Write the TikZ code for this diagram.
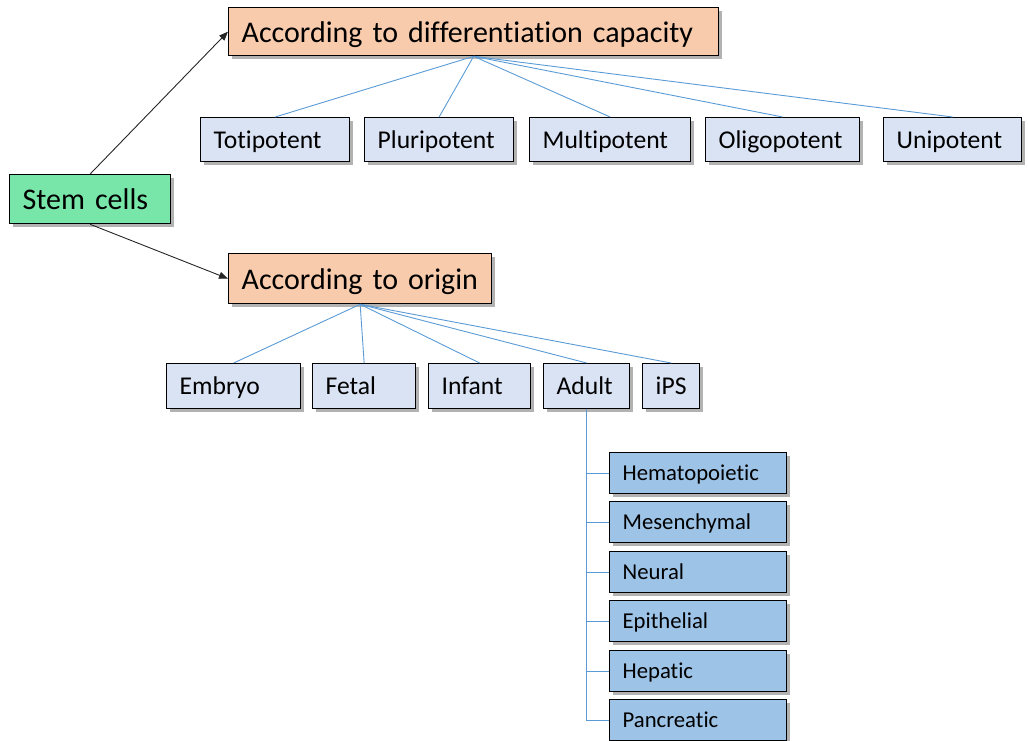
\documentclass[tikz,border=0pt]{standalone}
\usepackage{fontspec}
\setmainfont{Carlito}[Ligatures=NoCommon]
\usetikzlibrary{arrows.meta,shadows}
\definecolor{orangebox}{HTML}{F8CBAD}
\definecolor{greenbox}{HTML}{78E6A9}
\definecolor{lightblue}{HTML}{DAE3F3}
\definecolor{midblue}{HTML}{9DC3E6}
\definecolor{connblue}{HTML}{5B9BD5}
\tikzset{
  box/.style={draw=black, line width=1.3pt, anchor=north west, align=left,
    inner xsep=13pt, inner ysep=0pt,
    drop shadow={shadow xshift=3pt, shadow yshift=-3pt, opacity=0.3, fill=black}},
  topbox/.style={box, fill=orangebox, minimum height=#1, text height=21.6pt, text depth=0.6pt, font=\fontsize{30}{36}\selectfont},
  rootbox/.style={box, fill=greenbox, minimum height=49pt, text height=21.6pt, text depth=0.6pt, font=\fontsize{30}{36}\selectfont},
  lvbox/.style={box, fill=lightblue, minimum height=#1, text height=18.4pt, text depth=1pt, font=\fontsize{25.6}{30}\selectfont},
  subbox/.style={box, fill=midblue, minimum height=41pt, text width=151pt, text height=16pt, text depth=1.5pt, font=\fontsize{22.7}{27}\selectfont},
  conn/.style={draw=connblue, line width=0.9pt},
  arr/.style={draw=black!85, line width=0.9pt, -{Triangle[length=9pt,width=7pt]}}
}
\begin{document}
\begin{tikzpicture}[x=1pt,y=-1pt]
\useasboundingbox (0,0) rectangle (1028,740);
% main boxes
\node[rootbox, text width=135pt] (stem) at (9,174) {Stem cells};
\node[topbox=48pt, text width=464pt] (diff) at (228,7) {According to differentiation capacity};
\node[topbox=50pt, text width=237pt] (orig) at (228,253) {According to origin};
% differentiation capacity level
\node[lvbox=44pt, text width=123pt] (toti) at (200,117) {Totipotent};
\node[lvbox=44pt, text width=123pt] (pluri) at (364,117) {Pluripotent};
\node[lvbox=44pt, text width=135pt] (multi) at (529,117) {Multipotent};
\node[lvbox=44pt, text width=128pt] (oligo) at (705,117) {Oligopotent};
\node[lvbox=44pt, text width=112pt] (uni) at (883,117) {Unipotent};
% origin level
\node[lvbox=45pt, text width=108pt] (embryo) at (166,363) {Embryo};
\node[lvbox=45pt, text width=77pt] (fetal) at (312,363) {Fetal};
\node[lvbox=45pt, text width=76pt] (infant) at (428,363) {Infant};
\node[lvbox=45pt, text width=60pt] (adult) at (543,363) {Adult};
\node[lvbox=45pt, text width=31pt] (ips) at (642,363) {iPS};
% adult sub types
\node[subbox] (hema) at (609,452) {Hematopoietic};
\node[subbox] (mes) at (609,501) {Mesenchymal};
\node[subbox] (neur) at (609,551) {Neural};
\node[subbox] (epi) at (609,600) {Epithelial};
\node[subbox] (hep) at (609,650) {Hepatic};
\node[subbox] (pan) at (609,699) {Pancreatic};
% arrows
\draw[arr] (stem.north) -- (diff.west);
\draw[arr] (stem.south) -- (orig.west);
% connectors
\foreach \c in {toti,pluri,multi,oligo,uni} \draw[conn] (diff.south) -- (\c.north);
\foreach \c in {embryo,fetal,infant,adult,ips} \draw[conn] (orig.south) -- (\c.north);
\foreach \c in {hema,mes,neur,epi,hep,pan} \draw[conn] (adult.south) |- (\c.west);
\end{tikzpicture}
\end{document}
